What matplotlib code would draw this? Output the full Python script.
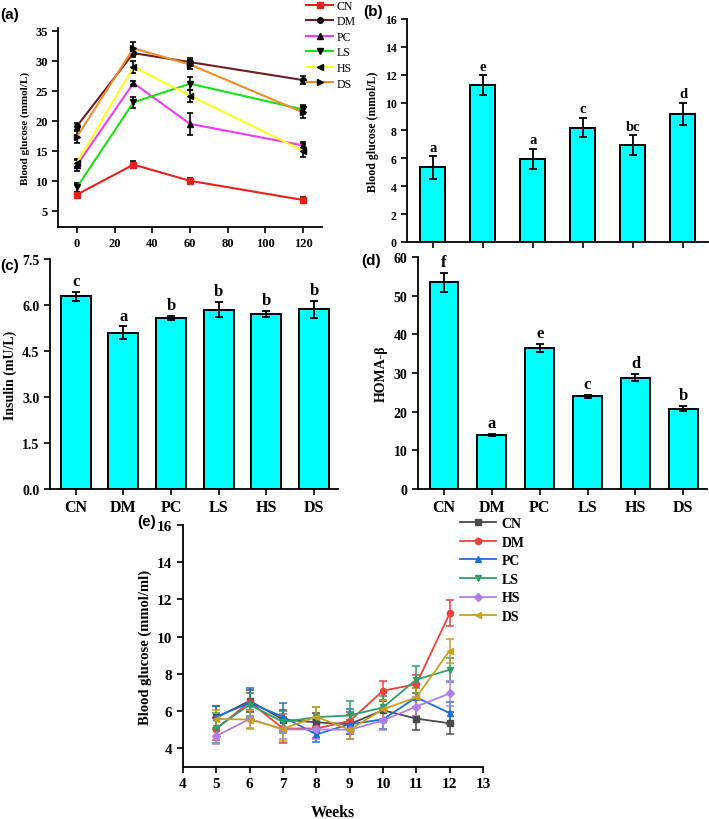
import matplotlib

matplotlib.use("Agg")
import matplotlib.pyplot as plt

plt.rcParams["font.family"] = ["Liberation Serif", "DejaVu Serif"]
plt.rcParams["font.weight"] = "bold"
plt.rcParams["axes.labelweight"] = "bold"
plt.rcParams["axes.linewidth"] = 1.3
plt.rcParams["xtick.major.width"] = 1.2
plt.rcParams["ytick.major.width"] = 1.2

GROUPS = ["CN", "DM", "PC", "LS", "HS", "DS"]

# (a) glucose tolerance, minutes
OGTT_TIME = [0, 30, 60, 120]
OGTT_MEAN = {
    "CN": [7.7, 12.7, 10.0, 6.8],
    "DM": [19.1, 31.3, 29.8, 26.8],
    "PC": [12.6, 26.3, 19.5, 15.9],
    "LS": [8.9, 23.1, 26.2, 21.9],
    "HS": [13.0, 29.0, 24.2, 15.0],
    "DS": [17.3, 32.1, 29.4, 21.4],
}
OGTT_ERR = {
    "CN": [0.5, 0.6, 0.5, 0.5],
    "DM": [0.6, 0.7, 0.7, 0.7],
    "PC": [0.9, 0.4, 1.8, 0.6],
    "LS": [0.8, 0.9, 1.1, 0.7],
    "HS": [0.7, 1.0, 1.0, 1.1],
    "DS": [1.0, 1.0, 0.8, 0.9],
}

# (b) fasting glucose
GLU = [5.35, 11.25, 5.95, 8.2, 6.95, 9.2]
GLU_ERR = [0.8, 0.7, 0.75, 0.7, 0.7, 0.8]
GLU_LET = ["a", "e", "a", "c", "bc", "d"]

# (c) insulin
INS = [6.28, 5.1, 5.58, 5.85, 5.7, 5.86]
INS_ERR = [0.15, 0.2, 0.07, 0.25, 0.1, 0.27]
INS_LET = ["c", "a", "b", "b", "b", "b"]

# (d) HOMA-beta
HOMA = [53.4, 14.0, 36.5, 24.0, 28.8, 20.8]
HOMA_ERR = [2.5, 0.3, 1.0, 0.4, 0.9, 0.6]
HOMA_LET = ["f", "a", "e", "c", "d", "b"]

# (e) weekly glucose
WEEKS = [5, 6, 7, 8, 9, 10, 11, 12]
WK_MEAN = {
    "CN": [5.66, 6.55, 5.55, 5.4, 5.3, 6.05, 5.6, 5.35],
    "DM": [5.05, 6.5, 5.07, 5.07, 5.47, 7.1, 7.45, 11.25],
    "PC": [5.7, 6.45, 5.7, 4.75, 5.3, 5.56, 6.74, 5.9],
    "LS": [5.1, 6.35, 5.42, 5.68, 5.77, 6.2, 7.7, 8.22],
    "HS": [4.67, 5.58, 5.02, 5.02, 5.0, 5.5, 6.25, 6.95],
    "DS": [5.58, 5.55, 5.05, 5.7, 5.0, 6.1, 6.74, 9.25],
}
WK_ERR = {
    "CN": [0.6, 0.6, 0.5, 0.5, 0.5, 0.5, 0.6, 0.6],
    "DM": [0.6, 0.5, 0.8, 0.5, 0.5, 0.5, 0.5, 0.7],
    "PC": [0.6, 0.8, 0.75, 0.4, 0.8, 0.5, 0.5, 0.6],
    "LS": [0.8, 0.6, 0.6, 0.55, 0.75, 0.6, 0.7, 0.65],
    "HS": [0.45, 0.5, 0.5, 0.5, 0.5, 0.5, 0.5, 0.65],
    "DS": [0.5, 0.5, 0.65, 0.5, 0.5, 0.5, 0.5, 0.65],
}

A_COLORS = {"CN": "#e8201c", "DM": "#6e1e1e", "PC": "#f03cf0",
            "LS": "#19e019", "HS": "#ffff1e", "DS": "#f08c28"}
A_MARKERS = {"CN": "s", "DM": "o", "PC": "^", "LS": "v", "HS": "<", "DS": ">"}
E_COLORS = {"CN": "#4a4a4a", "DM": "#f0403a", "PC": "#1f6fd6",
            "LS": "#2ca068", "HS": "#b07ee6", "DS": "#c8a020"}
E_MARKERS = {"CN": "s", "DM": "o", "PC": "^", "LS": "v", "HS": "D", "DS": "<"}

BAR = "#00ffff"
SANS = ["Liberation Sans", "DejaVu Sans"]


def open_axes(ax):
    ax.spines["top"].set_visible(False)
    ax.spines["right"].set_visible(False)
    ax.tick_params(direction="out", length=4)


def bar_panel(ax, vals, errs, letters, ylim, yticks, ylabel, fs,
              width=0.6, show_x=True):
    x = range(len(GROUPS))
    ax.bar(x, vals, width, color=BAR, edgecolor="black", linewidth=1.4,
           yerr=errs, error_kw=dict(ecolor="black", elinewidth=1.3,
                                    capsize=3, capthick=1.3), zorder=2)
    span = ylim[1] - ylim[0]
    for i, (v, e, t) in enumerate(zip(vals, errs, letters)):
        ax.text(i, v + e + span * 0.012, t, ha="center", va="bottom",
                fontsize=fs + 2, fontweight="bold")
    ax.set_xlim(-0.54, 5.5)
    ax.set_ylim(*ylim)
    ax.set_yticks(yticks)
    ax.set_xticks(list(x))
    if show_x:
        ax.set_xticklabels(GROUPS, fontsize=fs + 1.5)
    else:
        ax.set_xticklabels([])
    ax.set_ylabel(ylabel, fontsize=fs)
    open_axes(ax)
    ax.tick_params(axis="y", labelsize=fs)


fig = plt.figure(figsize=(7.09, 8.2), dpi=100)

# (a)
ax = fig.add_axes([0.0818, 0.722, 0.3724, 0.2427])
for g in GROUPS:
    mfc = A_COLORS[g] if g == "CN" else "black"
    ax.errorbar(OGTT_TIME, OGTT_MEAN[g], yerr=OGTT_ERR[g], color=A_COLORS[g],
                marker=A_MARKERS[g], markersize=4, mfc=mfc, mec=mfc, lw=1.5,
                ecolor="black", elinewidth=1.2, capsize=2.5, capthick=1.2,
                label=g)
ax.set_xlim(-10, 130)
ax.set_ylim(2.3, 35.5)
ax.set_xticks([0, 20, 40, 60, 80, 100, 120])
ax.set_yticks([5, 10, 15, 20, 25, 30, 35])
ax.set_ylabel("Blood glucose (mmol/L)", fontsize=8)
open_axes(ax)
ax.tick_params(labelsize=9)
handles, labels = ax.get_legend_handles_labels()
handles = [h[0] for h in handles]
ax.legend(handles, labels, loc="upper left", bbox_to_anchor=(0.432, 0.999),
          bbox_transform=fig.transFigure, frameon=False, borderpad=0,
          borderaxespad=0, handlelength=2.3, handletextpad=0.3,
          labelspacing=0.3,
          prop={"family": ["Liberation Serif"], "size": 8.5,
                "weight": "normal"})
fig.text(0.0, 0.99, "(a)", fontsize=11, fontweight="bold", family=SANS,
         va="top")

# (b)
ax = fig.add_axes([0.574, 0.7037, 0.4245, 0.272])
bar_panel(ax, GLU, GLU_ERR, GLU_LET, (0, 16), range(0, 17, 2),
          "Blood glucose (mmol/L)", 8.5, width=0.5, show_x=False)
ax.set_xlim(-0.52, 5.5)
fig.text(0.513, 0.994, "(b)", fontsize=11, fontweight="bold", family=SANS,
         va="top")

# (c)
ax = fig.add_axes([0.0705, 0.4024, 0.406, 0.2805])
bar_panel(ax, INS, INS_ERR, INS_LET, (0, 7.5),
          [0.0, 1.5, 3.0, 4.5, 6.0, 7.5], "Insulin (mU/L)", 10, width=0.63)
ax.set_yticklabels(["0.0", "1.5", "3.0", "4.5", "6.0", "7.5"])
fig.text(0.0, 0.684, "(c)", fontsize=11, fontweight="bold", family=SANS,
         va="top")

# (d)
ax = fig.add_axes([0.5896, 0.4024, 0.408, 0.283])
bar_panel(ax, HOMA, HOMA_ERR, HOMA_LET, (0, 60), range(0, 61, 10),
          "HOMA-β", 10, width=0.6)
fig.text(0.51, 0.69, "(d)", fontsize=11, fontweight="bold", family=SANS,
         va="top")

# (e)
ax = fig.add_axes([0.2581, 0.0634, 0.4231, 0.2951])
for g in GROUPS:
    c = E_COLORS[g]
    ax.errorbar(WEEKS, WK_MEAN[g], yerr=WK_ERR[g], color=c,
                marker=E_MARKERS[g], markersize=4.5, lw=1.3, elinewidth=1.1,
                capsize=3, capthick=1.1, label=g)
ax.set_xlim(4, 13)
ax.set_ylim(3, 16)
ax.set_xticks(range(4, 14))
ax.set_yticks(range(4, 17, 2))
ax.set_xlabel("Weeks", fontsize=11.5, labelpad=10)
ax.set_ylabel("Blood glucose (mmol/ml)", fontsize=10.5)
open_axes(ax)
ax.tick_params(labelsize=11)
handles, labels = ax.get_legend_handles_labels()
handles = [h[0] for h in handles]
ax.legend(handles, labels, loc="upper left", bbox_to_anchor=(0.649, 0.368),
          bbox_transform=fig.transFigure, frameon=False, borderpad=0,
          borderaxespad=0, handlelength=2.6, handletextpad=0.4,
          labelspacing=0.4,
          prop={"family": ["Liberation Serif"], "size": 10, "weight": "bold"})
fig.text(0.193, 0.372, "(e)", fontsize=11, fontweight="bold", family=SANS,
         va="top")

fig.savefig("out.png", dpi=100)
